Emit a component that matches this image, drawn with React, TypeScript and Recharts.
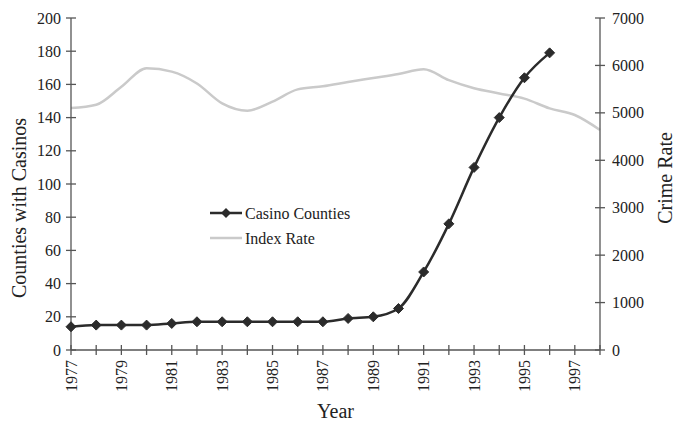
import React from 'react';
import { LineChart, Line, XAxis, YAxis, Label } from 'recharts';

const years = [
  1977, 1978, 1979, 1980, 1981, 1982, 1983, 1984, 1985, 1986, 1987,
  1988, 1989, 1990, 1991, 1992, 1993, 1994, 1995, 1996, 1997, 1998,
];
const casinoCounties = [
  14, 15, 15, 15, 16, 17, 17, 17, 17, 17, 17,
  19, 20, 25, 47, 76, 110, 140, 164, 179, null, null,
];
const indexRate = [
  5100, 5170, 5550, 5940, 5870, 5620, 5200, 5045, 5235, 5495, 5560,
  5650, 5735, 5820, 5920, 5690, 5520, 5410, 5300, 5095, 4955, 4640,
];
const leftTicks = [0, 20, 40, 60, 80, 100, 120, 140, 160, 180, 200];
const rightTicks = [0, 1000, 2000, 3000, 4000, 5000, 6000, 7000];

const data = years.map((year, i) => ({
  year,
  casino: casinoCounties[i],
  index: indexRate[i],
}));

const FONT = '"Liberation Serif", "DejaVu Serif", serif';
const INK = '#222';
const AXIS = '#555';
const CASINO = '#2b2b2b';
const INDEX = '#cacaca';

function LeftTick({ x, y, payload }: any) {
  return (
    <g>
      <line x1={x - 5} x2={x + 5} y1={y} y2={y} stroke={AXIS} strokeWidth={1.3} />
      <text x={x - 10} y={y} dy="0.35em" textAnchor="end" fontSize={16} fill={INK} fontFamily={FONT}>
        {payload.value}
      </text>
    </g>
  );
}

function RightTick({ x, y, payload }: any) {
  return (
    <g>
      <line x1={x - 5} x2={x + 5} y1={y} y2={y} stroke={AXIS} strokeWidth={1.3} />
      <text x={x + 12} y={y} dy="0.35em" textAnchor="start" fontSize={16} fill={INK} fontFamily={FONT}>
        {payload.value}
      </text>
    </g>
  );
}

function BottomTick({ x, y, payload }: any) {
  const showLabel = payload.value % 2 === 1;
  return (
    <g>
      <line x1={x} x2={x} y1={y - 5} y2={y + 5} stroke={AXIS} strokeWidth={1.3} />
      {showLabel && (
        <text
          x={x}
          y={y + 10}
          dy="0.35em"
          textAnchor="end"
          transform={`rotate(-90, ${x}, ${y + 10})`}
          fontSize={16}
          fill={INK}
          fontFamily={FONT}
        >
          {payload.value}
        </text>
      )}
    </g>
  );
}

function Diamond({ cx, cy, index }: any) {
  if (cx == null || cy == null) return <g key={index} />;
  const r = 5;
  return (
    <path
      key={index}
      d={`M${cx},${cy - r} L${cx + r},${cy} L${cx},${cy + r} L${cx - r},${cy} Z`}
      fill={CASINO}
      stroke={CASINO}
    />
  );
}

function LegendBox() {
  return (
    <svg
      width={180}
      height={50}
      style={{ position: 'absolute', left: 208, top: 203, display: 'block', overflow: 'visible' }}
    >
      <line x1={2} x2={34} y1={10} y2={10} stroke={CASINO} strokeWidth={2.5} />
      <path d="M18,5 L23,10 L18,15 L13,10 Z" fill={CASINO} />
      <text x={37} y={10} dy="0.35em" fontSize={16} fill={INK} fontFamily={FONT}>
        Casino Counties
      </text>
      <line x1={2} x2={34} y1={35} y2={35} stroke={INDEX} strokeWidth={2.5} />
      <text x={37} y={35} dy="0.35em" fontSize={16} fill={INK} fontFamily={FONT}>
        Index Rate
      </text>
    </svg>
  );
}

export default function App() {
  return (
    <div style={{ position: 'absolute', left: 0, top: 0, width: 677, height: 423, background: '#fff' }}>
      <LineChart width={677} height={423} data={data} margin={{ top: 18, right: 0, bottom: 0, left: 0 }}>
        <XAxis
          dataKey="year"
          type="number"
          domain={[1977, 1998]}
          ticks={years}
          interval={0}
          height={73}
          tickSize={0}
          tickMargin={0}
          tick={<BottomTick />}
          stroke={AXIS}
          strokeWidth={1.3}
        >
          <Label
            content={({ viewBox }: any) => (
              <text
                x={viewBox.x + viewBox.width / 2}
                y={viewBox.y + 68}
                textAnchor="middle"
                fontSize={20}
                fill={INK}
                fontFamily={FONT}
              >
                Year
              </text>
            )}
          />
        </XAxis>
        <YAxis
          yAxisId="left"
          orientation="left"
          domain={[0, 200]}
          ticks={leftTicks}
          interval={0}
          width={71}
          tickSize={0}
          tickMargin={0}
          tick={<LeftTick />}
          stroke={AXIS}
          strokeWidth={1.3}
        >
          <Label
            content={({ viewBox }: any) => {
              const cx = 26;
              const cy = viewBox.y + viewBox.height / 2 + 24;
              return (
                <text
                  x={cx}
                  y={cy}
                  textAnchor="middle"
                  transform={`rotate(-90, ${cx}, ${cy})`}
                  fontSize={20}
                  fill={INK}
                  fontFamily={FONT}
                >
                  Counties with Casinos
                </text>
              );
            }}
          />
        </YAxis>
        <YAxis
          yAxisId="right"
          orientation="right"
          domain={[0, 7000]}
          ticks={rightTicks}
          interval={0}
          width={77}
          tickSize={0}
          tickMargin={0}
          tick={<RightTick />}
          stroke={AXIS}
          strokeWidth={1.3}
        >
          <Label
            content={({ viewBox }: any) => {
              const cx = 672;
              const cy = viewBox.y + 160;
              return (
                <text
                  x={cx}
                  y={cy}
                  textAnchor="middle"
                  transform={`rotate(-90, ${cx}, ${cy})`}
                  fontSize={20}
                  fill={INK}
                  fontFamily={FONT}
                >
                  Crime Rate
                </text>
              );
            }}
          />
        </YAxis>
        <Line
          yAxisId="right"
          dataKey="index"
          name="Index Rate"
          type="monotone"
          stroke={INDEX}
          strokeWidth={2.5}
          dot={false}
          isAnimationActive={false}
        />
        <Line
          yAxisId="left"
          dataKey="casino"
          name="Casino Counties"
          type="monotone"
          stroke={CASINO}
          strokeWidth={2.5}
          dot={<Diamond />}
          isAnimationActive={false}
        />
      </LineChart>
      <LegendBox />
    </div>
  );
}
